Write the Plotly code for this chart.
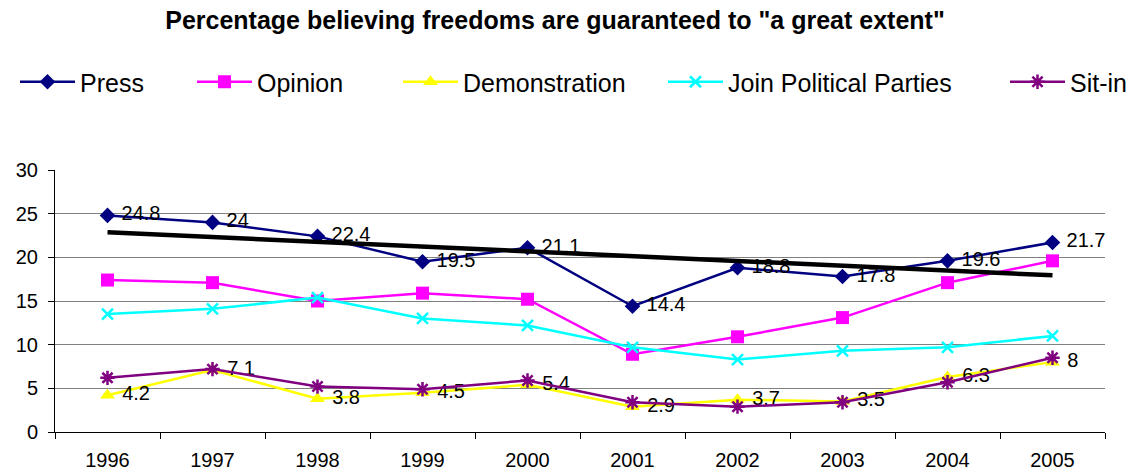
import numpy as np
import plotly.graph_objects as go

years = ["1996", "1997", "1998", "1999", "2000", "2001", "2002", "2003", "2004", "2005"]
press = [24.8, 24.0, 22.4, 19.5, 21.1, 14.4, 18.8, 17.8, 19.6, 21.7]
opinion = [17.4, 17.1, 15.0, 15.9, 15.2, 8.9, 10.9, 13.1, 17.1, 19.6]
demonstration = [4.2, 7.1, 3.8, 4.5, 5.4, 2.9, 3.7, 3.5, 6.3, 8.0]
join_parties = [13.5, 14.1, 15.4, 13.0, 12.2, 9.7, 8.3, 9.3, 9.7, 11.0]
sit_in = [6.2, 7.2, 5.2, 4.9, 5.9, 3.4, 2.9, 3.4, 5.7, 8.5]

FONT = "Liberation Sans, Arial, sans-serif"

# linear trend of the Press series
idx = np.arange(len(years))
slope, intercept = np.polyfit(idx, press, 1)
trend = slope * idx + intercept

fig = go.Figure()

series = [
    ("Press", press, "#000080", dict(symbol="diamond", size=12), True, "legend"),
    ("Opinion", opinion, "#FF00FF", dict(symbol="square", size=13), False, "legend2"),
    ("Demonstration", demonstration, "#FFFF00", dict(symbol="triangle-up", size=13), True, "legend3"),
    ("Join Political Parties", join_parties, "#00FFFF",
     dict(symbol="x-thin-open", size=11, line=dict(width=2.5, color="#00FFFF")), False, "legend4"),
    ("Sit-in", sit_in, "#800080",
     dict(symbol="asterisk-open", size=12, line=dict(width=2.5, color="#800080")), False, "legend5"),
]

for name, vals, color, marker, labelled, leg in series:
    fig.add_trace(go.Scatter(
        x=years, y=vals, name=name, legend=leg,
        mode="lines+markers+text" if labelled else "lines+markers",
        line=dict(color=color, width=2.5),
        marker=dict(color=color, **marker),
        text=[f" {v:g}" for v in vals] if labelled else None,
        textposition="middle right",
        textfont=dict(family=FONT, size=20, color="#000000"),
        cliponaxis=False,
    ))

fig.add_trace(go.Scatter(
    x=years, y=trend, mode="lines", showlegend=False,
    line=dict(color="#000000", width=4.5), hoverinfo="skip",
))

legend_x = [15, 192, 398, 663, 1005]
legend_common = dict(
    orientation="h", xref="container", yref="container",
    y=1 - 82 / 472, yanchor="middle", xanchor="left",
    font=dict(family=FONT, size=25, color="#000000"),
    bgcolor="rgba(0,0,0,0)", borderwidth=0, itemwidth=55,
)
legends = {}
for i, px in enumerate(legend_x):
    key = "legend" if i == 0 else f"legend{i + 1}"
    legends[key] = dict(x=px / 1142, **legend_common)

fig.update_layout(
    width=1142, height=472,
    margin=dict(l=55, r=37, t=170, b=40, autoexpand=False),
    paper_bgcolor="#FFFFFF", plot_bgcolor="#FFFFFF",
    font=dict(family=FONT, color="#000000"),
    title=dict(
        text='<b>Percentage believing freedoms are guaranteed to "a great extent"</b>',
        x=555 / 1142, xref="container", xanchor="center",
        y=1 - 20 / 472, yref="container", yanchor="middle",
        font=dict(family=FONT, size=25, color="#000000"),
    ),
    **legends,
)

fig.update_xaxes(
    type="category", range=[-0.5, len(years) - 0.5],
    tickson="boundaries", ticks="outside", ticklen=6,
    tickcolor="#000000", showline=True, linecolor="#000000", linewidth=1,
    showgrid=False, tickfont=dict(family=FONT, size=20), ticklabelstandoff=10,
    automargin=False,
)
fig.update_yaxes(
    range=[0, 30], dtick=5, ticks="outside", ticklen=6, tickcolor="#000000",
    showline=True, linecolor="#000000", linewidth=1,
    showgrid=True, gridcolor="#808080", gridwidth=1, zeroline=False,
    tickfont=dict(family=FONT, size=20), ticklabelstandoff=6,
    automargin=False,
)

fig.write_html("out.html")
